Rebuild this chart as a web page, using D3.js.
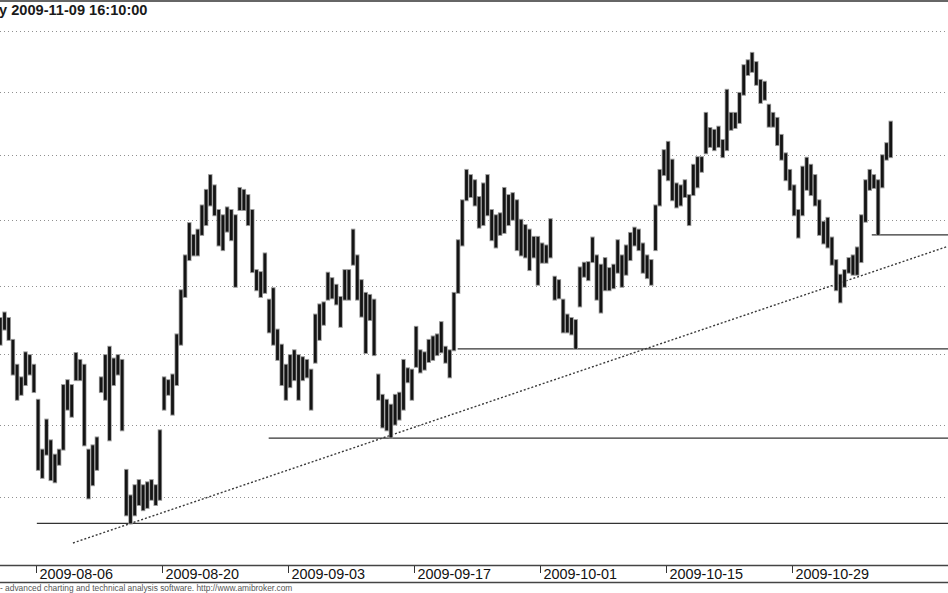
<!DOCTYPE html>
<html><head><meta charset="utf-8">
<script src="https://cdn.jsdelivr.net/npm/d3@7"></script>
<style>html,body{margin:0;padding:0;background:#fff;overflow:hidden}</style>
</head><body>
<svg id="c" width="948" height="593"></svg>
<script>
const title = "y 2009-11-09 16:10:00";
const footer = "- advanced charting and technical analysis software. http://www.amibroker.com";
const firstDay = "2009-08-03", lastDay = "2009-11-09";
const barsPerDay = 3;
const tickLabels = ["2009-08-06","2009-08-20","2009-09-03","2009-09-17","2009-10-01","2009-10-15","2009-10-29"];
const gridLevels = [33,34,35,36,37,38,39,40];

const high = [35.53,35.61,35.53,35.21,34.85,34.67,35.03,34.99,34.85,34.35,
33.65,34.07,33.78,33.58,33.65,34.56,34.63,34.56,35.02,34.92,
34.85,33.65,33.71,33.82,34.67,34.99,35.11,34.94,34.99,34.92,
33.37,33.02,33.16,33.23,33.16,33.20,33.23,33.16,33.92,34.67,
34.63,34.71,35.29,35.94,36.46,36.95,36.77,36.85,37.22,37.46,
37.69,37.53,37.15,37.07,37.19,37.15,37.07,37.49,37.46,37.38,
37.15,36.24,36.21,36.49,35.80,35.97,35.36,35.14,34.85,34.99,
35.06,34.99,34.96,34.92,34.78,35.58,35.73,35.76,36.20,36.12,
36.02,35.84,36.24,36.24,36.85,36.46,36.09,35.90,35.87,35.80,
34.71,34.42,34.35,34.28,34.42,34.45,34.92,34.80,34.78,35.40,
35.06,35.03,35.21,35.26,35.29,35.47,35.11,35.06,35.90,36.69,
37.30,37.77,37.69,37.61,37.35,37.56,37.69,37.15,37.07,37.10,
37.49,37.38,37.41,37.30,37.00,36.92,36.85,36.74,36.74,36.64,
36.61,37.01,36.14,36.09,35.80,35.58,35.53,35.50,36.28,36.35,
36.36,36.73,36.46,36.32,36.42,36.27,36.32,36.69,36.46,36.61,
36.80,36.88,36.85,36.64,36.46,36.39,37.22,37.77,38.08,38.21,
37.93,37.56,37.53,37.61,37.38,37.85,37.97,37.97,38.67,38.43,
38.40,38.45,38.24,39.04,38.67,38.67,38.99,39.44,39.52,39.64,
39.49,39.20,39.17,38.80,38.67,38.59,38.32,38.03,37.77,37.53,
37.15,37.82,37.96,37.85,37.69,37.30,36.97,37.03,36.73,36.39,
36.17,36.24,36.42,36.46,36.58,37.07,37.61,37.77,37.69,37.61,
38.00,38.19,38.53];

const low = [35.14,35.36,35.21,34.71,34.35,34.42,34.56,34.71,34.46,33.37,
33.26,33.58,33.23,33.20,33.44,33.65,34.21,34.11,34.63,34.63,
33.71,32.98,33.16,33.37,34.46,34.35,33.78,34.56,34.71,33.92,
32.75,32.64,32.75,32.89,32.82,32.85,32.96,32.89,32.96,34.21,
34.42,34.14,34.56,35.14,35.84,36.39,36.46,36.46,36.77,36.92,
37.22,37.07,36.61,36.54,36.82,36.69,35.99,37.15,37.15,36.92,
36.21,35.94,35.84,35.90,35.32,35.14,34.92,34.56,34.35,34.53,
34.63,34.35,34.63,34.67,34.21,34.88,35.21,35.43,35.80,35.82,
35.73,35.40,35.80,35.80,36.32,35.80,35.55,35.02,35.50,34.99,
34.35,33.96,33.92,33.82,34.00,34.07,34.21,34.60,34.35,34.82,
34.74,34.78,34.89,34.92,34.99,35.03,34.88,34.67,35.06,35.90,
36.61,37.30,37.35,37.22,36.88,36.92,37.07,36.69,36.58,36.77,
36.80,36.92,37.00,36.54,36.46,36.43,36.24,36.43,36.02,36.35,
36.35,36.43,35.80,35.82,35.32,35.32,35.29,35.08,35.70,36.14,
36.09,36.36,35.80,35.61,35.94,35.94,35.97,36.20,35.99,36.17,
36.39,36.61,36.54,36.20,36.12,36.02,36.54,37.22,37.69,37.61,
37.30,37.19,37.22,37.35,36.92,37.38,37.50,37.74,38.03,38.13,
38.08,38.13,37.97,38.08,38.40,38.43,38.51,38.96,39.28,39.33,
39.12,38.83,38.88,38.45,38.45,38.16,37.93,37.61,37.46,37.07,
36.73,37.07,37.46,37.38,37.22,36.77,36.64,36.58,36.32,35.94,
35.76,35.99,36.20,36.17,36.17,36.36,36.97,37.46,37.49,36.77,
37.50,37.93,37.97];

const supportLevels = [32.64, 33.81, 35.08, 36.77];
const supportFromBar = [9.2, 64.4, 109.4, 208];
const trendBars = [31, 200];
const trendPrices = [32.64, 36.05];
const trendFromBar = 17.8;

const W = 948, H = 593, plotBottom = 565;
const svg = d3.select("#c");
const fmt = d3.utcFormat("%Y-%m-%d");
const days = d3.utcDay.range(new Date(firstDay + "T00:00Z"), d3.utcDay.offset(new Date(lastDay + "T00:00Z"), 1))
  .filter(d => d.getUTCDay() % 6 !== 0).map(fmt);

const x = d3.scaleLinear().domain([0, days.length * barsPerDay]).range([-1.8, 892.8]);
const y = d3.scaleLog().domain([40, 33]).range([31, 496.9]);

svg.append("defs").append("clipPath").attr("id", "plot")
  .append("rect").attr("x", 0).attr("y", 2).attr("width", W).attr("height", plotBottom - 2);

// top border
svg.append("line").attr("x1", 0).attr("x2", W).attr("y1", 1).attr("y2", 1)
  .attr("stroke", "#666").attr("stroke-width", 2);

// grid
svg.append("g").selectAll("line").data(gridLevels).join("line")
  .attr("x1", 0).attr("x2", W)
  .attr("y1", d => Math.round(y(d)) + 0.5).attr("y2", d => Math.round(y(d)) + 0.5)
  .attr("stroke", "#909090").attr("stroke-width", 1).attr("stroke-dasharray", "1,3");

// title
svg.append("text").attr("x", -1).attr("y", 15).text(title)
  .attr("font-family", "Liberation Sans, Arial, sans-serif").attr("font-size", 14.6)
  .attr("font-weight", "bold").attr("fill", "#1a1a1a");

const plot = svg.append("g").attr("clip-path", "url(#plot)");

// support lines
plot.append("g").selectAll("line").data(supportLevels).join("line")
  .attr("x1", (d, i) => x(supportFromBar[i])).attr("x2", W)
  .attr("y1", d => y(d)).attr("y2", d => y(d))
  .attr("stroke", "#333").attr("stroke-width", 1.3);

// trend line (straight in screen space)
const tx1 = x(trendBars[0] + 0.5), ty1 = y(trendPrices[0]);
const tx2 = x(trendBars[1] + 0.5), ty2 = y(trendPrices[1]);
const slope = (ty2 - ty1) / (tx2 - tx1);
const sx = x(trendFromBar);
plot.append("line")
  .attr("x1", sx).attr("y1", ty1 + slope * (sx - tx1))
  .attr("x2", W).attr("y2", ty1 + slope * (W - tx1))
  .attr("stroke", "#3a3a3a").attr("stroke-width", 1.4).attr("stroke-dasharray", "2,2");

// price bars: soft halo + dark core
const barG = plot.append("g");
barG.selectAll("line.h").data(high).join("line").attr("class", "h")
  .attr("x1", (d, i) => x(i + 0.5)).attr("x2", (d, i) => x(i + 0.5))
  .attr("y1", d => y(d) - 1).attr("y2", (d, i) => y(low[i]) + 1)
  .attr("stroke", "#9a9a9a").attr("stroke-width", 4.4);
barG.selectAll("line.c").data(high).join("line").attr("class", "c")
  .attr("x1", (d, i) => x(i + 0.5)).attr("x2", (d, i) => x(i + 0.5))
  .attr("y1", d => y(d)).attr("y2", (d, i) => y(low[i]))
  .attr("stroke", "#141414").attr("stroke-width", 2.8);

// axis strip
svg.append("line").attr("x1", 0).attr("x2", W).attr("y1", 565.5).attr("y2", 565.5)
  .attr("stroke", "#444").attr("stroke-width", 1.3);
svg.append("line").attr("x1", 0).attr("x2", W).attr("y1", 582.5).attr("y2", 582.5)
  .attr("stroke", "#444").attr("stroke-width", 1.3);

const tickG = svg.append("g").selectAll("g").data(tickLabels).join("g")
  .attr("transform", d => `translate(${Math.round(x(days.indexOf(d) * barsPerDay)) + 0.5},0)`);
tickG.append("line").attr("y1", 566).attr("y2", 573).attr("stroke", "#333").attr("stroke-width", 1);
tickG.append("text").attr("x", 3).attr("y", 578.5).text(d => d)
  .attr("font-family", "Liberation Sans, Arial, sans-serif").attr("font-size", 14.4).attr("fill", "#111");

// footer
svg.append("text").attr("x", 0).attr("y", 591).text(footer)
  .attr("font-family", "Liberation Sans, Arial, sans-serif").attr("font-size", 8.4).attr("fill", "#555");
</script>
</body></html>
